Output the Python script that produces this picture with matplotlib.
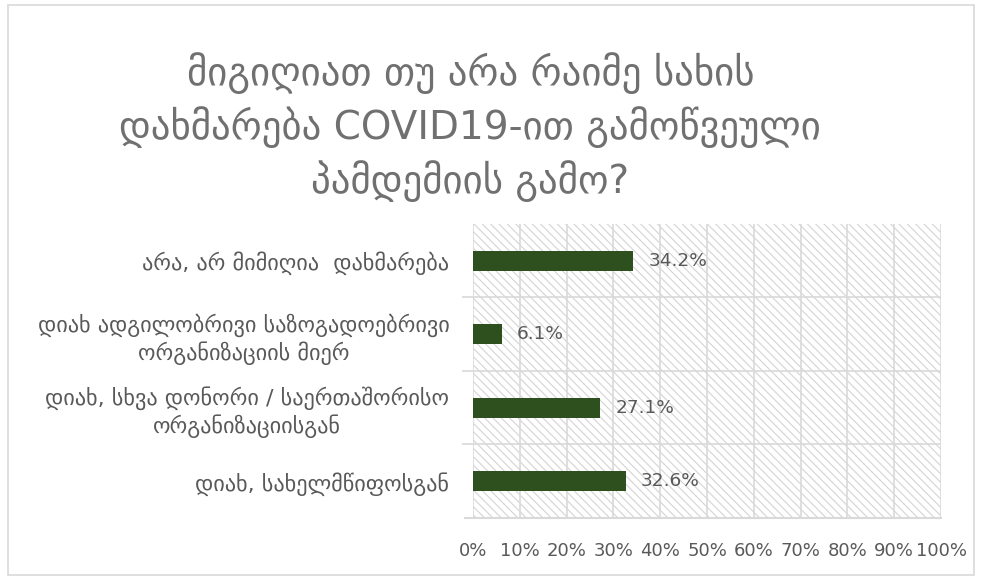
import matplotlib
matplotlib.use('Agg')
import matplotlib.pyplot as plt
from matplotlib.patches import Rectangle
from matplotlib.ticker import MultipleLocator, PercentFormatter

plt.rcParams['font.family'] = ['DejaVu Sans']
plt.rcParams['hatch.linewidth'] = 0.8

# answers, bottom to top as drawn
categories = [
    'დიახ, სახელმწიფოსგან',
    'დიახ, სხვა დონორი / საერთაშორისო\nორგანიზაციისგან',
    'დიახ ადგილობრივი საზოგადოებრივი\nორგანიზაციის მიერ',
    'არა, არ მიმიღია  დახმარება',
]
shares = [32.6, 27.1, 6.1, 34.2]

title = 'მიგიღიათ თუ არა რაიმე სახის\nდახმარება COVID19-ით გამოწვეული\nპამდემიის გამო?'

text_col = '#595959'
bar_col = '#2e4f1e'
grid_col = '#d9d9d9'

fig = plt.figure(figsize=(9.82, 5.80), dpi=100)
fig.patches.append(Rectangle((0.008, 0.008), 0.984, 0.984, transform=fig.transFigure,
                             fill=False, edgecolor='#d9d9d9', linewidth=1.2))

ax = fig.add_axes([0.4817, 0.107, 0.4766, 0.507])
# light diagonal hatching behind the bars
ax.add_patch(Rectangle((0, 0), 1, 1, transform=ax.transAxes, facecolor='white',
                       edgecolor='#d4d4d4', linewidth=0, hatch='\\\\\\\\', zorder=0))

pos = list(range(len(categories)))
ax.barh(pos, shares, height=0.27, color=bar_col, zorder=3)
for y, v in zip(pos, shares):
    ax.text(v + 3.3, y, f'{v:.1f}%', va='center', ha='left', fontsize=13.3,
            color=text_col, zorder=4)

ax.set_xlim(0, 100)
ax.set_ylim(-0.5, len(categories) - 0.5)
ax.xaxis.set_major_locator(MultipleLocator(10))
ax.xaxis.set_major_formatter(PercentFormatter(decimals=0))
ax.set_yticks(pos)
ax.set_yticklabels(categories, fontsize=16, color=text_col, ha='right',
                   multialignment='center', linespacing=1.25)
ax.tick_params(axis='y', length=0, pad=17)
ax.tick_params(axis='x', length=0, labelsize=13, labelcolor=text_col, pad=17)

# category boundaries
ax.set_yticks([i + 0.5 for i in range(len(categories) - 1)], minor=True)
ax.tick_params(axis='y', which='minor', length=8, color=grid_col, width=1.2)
ax.grid(axis='y', which='minor', color=grid_col, linewidth=1.2, zorder=1)
ax.grid(axis='x', which='major', color=grid_col, linewidth=1.2, zorder=1)
ax.set_axisbelow(True)

for s in ['top', 'right', 'left', 'bottom']:
    ax.spines[s].set_visible(False)
ax.plot([-1.7, 100], [-0.5, -0.5], color=grid_col, linewidth=1.5, clip_on=False, zorder=2)

fig.text(0.479, 0.781, title, ha='center', va='center', fontsize=28,
         color='#707070', linespacing=1.38)

fig.savefig('out.png', dpi=100)
